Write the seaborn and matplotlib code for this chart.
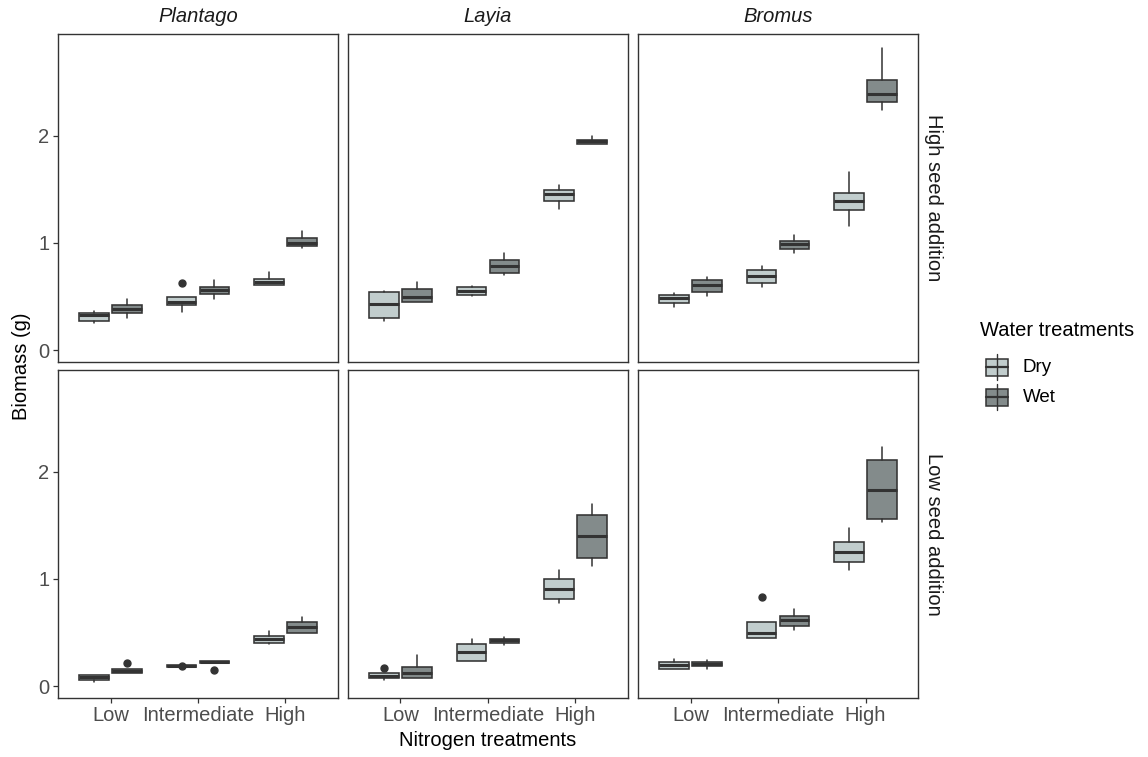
import matplotlib
matplotlib.use("Agg")
import matplotlib.pyplot as plt
import numpy as np
import pandas as pd
import seaborn as sns
from matplotlib.patches import Rectangle
from matplotlib.lines import Line2D

# ---------------- data ----------------
seeds = ["High seed addition", "Low seed addition"]
species = ["Plantago", "Layia", "Bromus"]
nitrogen = ["Low", "Intermediate", "High"]
water = ["Dry", "Wet"]
water_colors = ["#C1CDCD", "#838B8B"]

# one row per panel (seed x species, in the order of seeds then species)
# within a row: Low-Dry, Low-Wet, Intermediate-Dry, Intermediate-Wet, High-Dry, High-Wet
whis_lo = [
    [0.249, 0.296, 0.355, 0.474, 0.607, 0.956],
    [0.271, 0.451, 0.505, 0.704, 1.315, 1.922],
    [0.405, 0.502, 0.592, 0.909, 1.159, 2.243],
    [0.037, 0.125, 0.175, 0.212, 0.393, 0.493],
    [0.056, 0.078, 0.237, 0.380, 0.773, 1.124],
    [0.159, 0.162, 0.452, 0.523, 1.084, 1.530],
]
q1 = [
    [0.274, 0.343, 0.418, 0.523, 0.607, 0.972],
    [0.296, 0.451, 0.511, 0.717, 1.393, 1.922],
    [0.442, 0.539, 0.623, 0.947, 1.308, 2.321],
    [0.053, 0.125, 0.175, 0.212, 0.405, 0.493],
    [0.078, 0.078, 0.237, 0.405, 0.813, 1.199],
    [0.159, 0.187, 0.452, 0.561, 1.162, 1.558],
]
median = [
    [0.324, 0.380, 0.452, 0.561, 0.632, 1.003],
    [0.427, 0.498, 0.554, 0.785, 1.461, 1.950],
    [0.486, 0.607, 0.692, 0.988, 1.389, 2.390],
    [0.080, 0.140, 0.187, 0.225, 0.436, 0.549],
    [0.097, 0.125, 0.315, 0.427, 0.907, 1.399],
    [0.196, 0.209, 0.495, 0.617, 1.255, 1.832],
]
q3 = [
    [0.349, 0.421, 0.492, 0.592, 0.666, 1.050],
    [0.542, 0.567, 0.592, 0.841, 1.492, 1.963],
    [0.517, 0.651, 0.748, 1.022, 1.467, 2.526],
    [0.106, 0.156, 0.199, 0.236, 0.467, 0.598],
    [0.119, 0.180, 0.393, 0.443, 0.997, 1.598],
    [0.227, 0.224, 0.598, 0.657, 1.343, 2.115],
]
whis_hi = [
    [0.365, 0.474, 0.500, 0.654, 0.726, 1.112],
    [0.554, 0.638, 0.600, 0.904, 1.545, 2.000],
    [0.530, 0.679, 0.785, 1.072, 1.666, 2.820],
    [0.106, 0.156, 0.199, 0.236, 0.517, 0.642],
    [0.119, 0.287, 0.443, 0.461, 1.084, 1.698],
    [0.249, 0.240, 0.598, 0.723, 1.479, 2.236],
]
outliers = [
    ("High seed addition", "Plantago", "Intermediate", "Dry", 0.623),
    ("Low seed addition", "Plantago", "Low", "Wet", 0.212),
    ("Low seed addition", "Plantago", "Intermediate", "Dry", 0.190),
    ("Low seed addition", "Plantago", "Intermediate", "Wet", 0.152),
    ("Low seed addition", "Layia", "Low", "Dry", 0.168),
    ("Low seed addition", "Bromus", "Intermediate", "Dry", 0.829),
]

rows = []
p = 0
for s in seeds:
    for sp in species:
        k = 0
        for n in nitrogen:
            for w in water:
                rows.append(dict(seed=s, species=sp, nitrogen=n, water=w,
                                 lo=whis_lo[p][k], q1=q1[p][k], med=median[p][k],
                                 q3=q3[p][k], hi=whis_hi[p][k]))
                k += 1
        p += 1
df = pd.DataFrame(rows)

# ---------------- style ----------------
sns.set_theme(style="white")
plt.rcParams["font.family"] = ["Liberation Sans", "DejaVu Sans"]
EDGE = "#333333"
TICKC = "#4D4D4D"
FS = 14.5

W, H = 1148, 757


def draw_boxes(data, **kws):
    ax = plt.gca()
    for _, r in data.iterrows():
        i = nitrogen.index(r["nitrogen"])
        w = water.index(r["water"])
        pos = i + 1 + (w - 0.5) * 0.375
        key = (r["seed"], r["species"], r["nitrogen"], r["water"])
        fl = [o[4] for o in outliers if o[:4] == key]
        stats = [dict(whislo=r["lo"], q1=r["q1"], med=r["med"], q3=r["q3"],
                      whishi=r["hi"], fliers=fl)]
        ax.bxp(stats, positions=[pos], widths=0.3375, patch_artist=True,
               showcaps=False, manage_ticks=False,
               boxprops=dict(facecolor=water_colors[w], edgecolor=EDGE, linewidth=1.15),
               medianprops=dict(color=EDGE, linewidth=2.2, solid_capstyle="butt"),
               whiskerprops=dict(color=EDGE, linewidth=1.1),
               flierprops=dict(marker="o", markersize=5.0, markerfacecolor=EDGE,
                               markeredgecolor=EDGE, linestyle="none"))


g = sns.FacetGrid(df, row="seed", col="species", row_order=seeds, col_order=species,
                  sharex=True, sharey=True, despine=False, height=3, aspect=1)
g.map_dataframe(draw_boxes)
g.set_titles(template="", row_template="", col_template="")
g.set_axis_labels("", "")

fig = g.figure
fig.set_size_inches(W / 100, H / 100)
fig.subplots_adjust(left=58 / W, right=918 / W, top=1 - 34 / H, bottom=1 - 698 / H,
                    wspace=10 / 280, hspace=8 / 328)

for ri in range(2):
    for ci in range(3):
        ax = g.axes[ri, ci]
        ax.set_xlim(0.4, 3.6)
        ax.set_ylim(-0.112, 2.953)
        ax.set_xticks([1, 2, 3])
        ax.set_yticks([0, 1, 2])
        for sp in ax.spines.values():
            sp.set_visible(True)
            sp.set_color(EDGE)
            sp.set_linewidth(1.0)
        ax.tick_params(direction="out", length=3.6, width=0.9, color=EDGE,
                       labelcolor=TICKC, labelsize=FS, pad=2.5)
        ax.tick_params(axis="x", bottom=(ri == 1), labelbottom=(ri == 1))
        ax.tick_params(axis="y", left=(ci == 0), labelleft=(ci == 0))
        if ri == 1:
            ax.set_xticklabels(nitrogen)
        if ci == 0:
            ax.set_yticklabels(["0", "1", "2"])
        ax.set_xlabel("")
        ax.set_ylabel("")

# overlay axes in pixel coordinates for titles and legend
ov = fig.add_axes([0, 0, 1, 1], facecolor="none")
ov.set_xlim(0, W)
ov.set_ylim(H, 0)
ov.axis("off")

col_centers = [198, 488, 778]
for c, sp in zip(col_centers, species):
    ov.text(c, 17, sp, ha="center", va="center", fontsize=FS, style="italic", color="#1A1A1A")
row_centers = [198, 534]
for rc, s in zip(row_centers, seeds):
    ov.text(934, rc, s, ha="center", va="center", rotation=270, fontsize=FS, color="#1A1A1A")

ov.text(488, 741, "Nitrogen treatments", ha="center", va="center", fontsize=FS, color="black")
ov.text(22, 366, "Biomass (g)", ha="center", va="center", rotation=90, fontsize=FS, color="black")

# legend
ov.text(980, 331, "Water treatments", ha="left", va="center", fontsize=FS, color="black")
key_y = [367, 397]
for ky, lab, colr in zip(key_y, water, water_colors):
    ov.add_line(Line2D([997, 997], [ky - 13, ky + 13], color=EDGE, lw=1.0))
    ov.add_patch(Rectangle((986, ky - 8.5), 22, 17, facecolor=colr, edgecolor=EDGE, lw=1.1))
    ov.add_line(Line2D([986, 1008], [ky, ky], color=EDGE, lw=1.6))
    ov.text(1023, ky, lab, ha="left", va="center", fontsize=FS * 0.93, color="black")

fig.savefig("out.png", dpi=100)
